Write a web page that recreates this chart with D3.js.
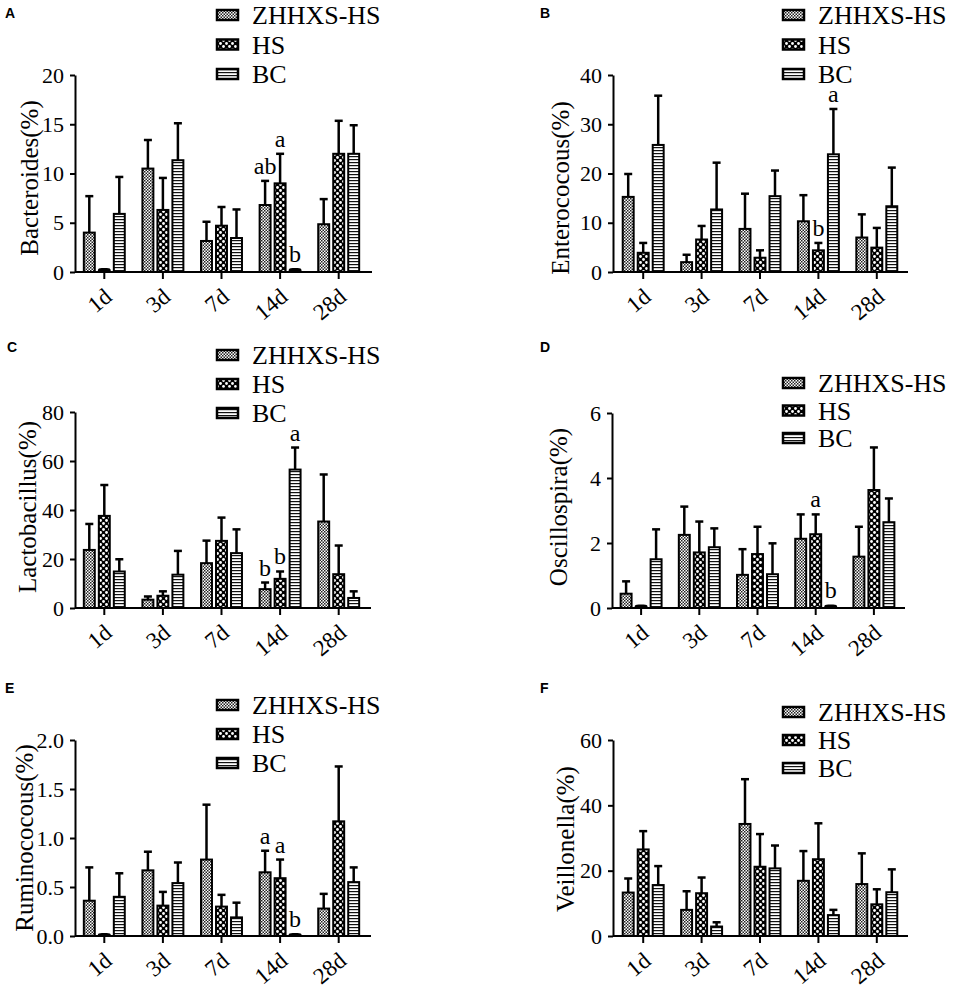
<!DOCTYPE html>
<html>
<head>
<meta charset="utf-8">
<script src="https://cdn.jsdelivr.net/npm/d3@7"></script>
<style>
  body { margin: 0; background: #fff; }
  svg text { font-family: 'Liberation Serif', 'Times New Roman', serif !important; }
  svg text.tag { font-family: 'Liberation Sans', Arial, sans-serif !important; }
</style>
</head>
<body>
<div id="viz"></div>
<script>
// categories and series
const days = ['1d', '3d', '7d', '14d', '28d']
const groups = ['ZHHXS-HS', 'HS', 'BC']

// A - Bacteroides
const bactMean = [[4.0, 10.5, 3.15, 6.8, 4.85], [0.3, 6.3, 4.7, 9.0, 12.0], [5.9, 11.35, 3.45, 0.3, 12.0]]
const bactSd = [[3.7, 2.9, 1.95, 2.45, 2.55], [0, 3.25, 1.9, 3.0, 3.35], [3.75, 3.75, 2.9, 0, 2.9]]
const bactTicks = [0, 5, 10, 15, 20]
const bactMarks = [['14d', 'ZHHXS-HS', 'ab'], ['14d', 'HS', 'a'], ['14d', 'BC', 'b']]

// B - Enterococous
const entMean = [[15.25, 2.0, 8.75, 10.3, 7.0], [3.9, 6.6, 2.9, 4.4, 4.95], [25.8, 12.7, 15.4, 23.9, 13.35]]
const entSd = [[4.65, 1.5, 7.15, 5.3, 4.7], [2.0, 2.75, 1.5, 1.5, 4.0], [10.0, 9.5, 5.2, 9.2, 7.85]]
const entTicks = [0, 10, 20, 30, 40]
const entMarks = [['14d', 'HS', 'b'], ['14d', 'BC', 'a']]

// C - Lactobacillus
const lactMean = [[23.7, 3.4, 18.3, 7.7, 35.3], [37.6, 5.0, 27.4, 11.9, 13.8], [14.9, 13.6, 22.4, 56.5, 4.1]]
const lactSd = [[10.6, 1.3, 9.2, 2.7, 19.2], [12.6, 1.8, 9.5, 3.0, 11.7], [5.0, 9.7, 9.7, 9.0, 2.7]]
const lactTicks = [0, 20, 40, 60, 80]
const lactMarks = [['14d', 'ZHHXS-HS', 'b'], ['14d', 'HS', 'b'], ['14d', 'BC', 'a']]

// D - Oscillospira
const oscMean = [[0.44, 2.25, 1.02, 2.13, 1.58], [0.08, 1.71, 1.66, 2.27, 3.63], [1.5, 1.87, 1.04, 0.08, 2.64]]
const oscSd = [[0.38, 0.87, 0.79, 0.75, 0.92], [0, 0.95, 0.84, 0.61, 1.31], [0.92, 0.58, 0.95, 0, 0.73]]
const oscTicks = [0, 2, 4, 6]
const oscMarks = [['14d', 'HS', 'a'], ['14d', 'BC', 'b']]

// E - Ruminococous
const rumMean = [[0.36, 0.67, 0.78, 0.65, 0.28], [0.02, 0.31, 0.30, 0.59, 1.17], [0.40, 0.54, 0.19, 0.02, 0.55]]
const rumSd = [[0.34, 0.19, 0.56, 0.22, 0.15], [0, 0.14, 0.12, 0.19, 0.56], [0.24, 0.21, 0.15, 0, 0.15]]
const rumTicks = [0, 0.5, 1.0, 1.5, 2.0]
const rumMarks = [['14d', 'ZHHXS-HS', 'a'], ['14d', 'HS', 'a'], ['14d', 'BC', 'b']]

// F - Veillonella
const veilMean = [[13.3, 8.0, 34.3, 16.9, 15.9], [26.5, 13.1, 21.2, 23.5, 9.7], [15.6, 2.9, 20.7, 6.4, 13.4]]
const veilSd = [[4.3, 5.7, 13.7, 9.1, 9.4], [5.6, 4.8, 10.0, 11.0, 4.6], [5.8, 1.3, 7.0, 1.6, 7.0]]
const veilTicks = [0, 20, 40, 60]
const veilMarks = []

const panels = [
  { tag: 'A', label: 'Bacteroides(%)', mean: bactMean, sd: bactSd, ticks: bactTicks, marks: bactMarks, fmt: d3.format('d'),
    pos: { left: 75, right: 372, band: [75, 368], top: 75, bottom: 272, leg: [216, 15, 29.5], ylab: [38, 178], tagAt: [5, 18] } },
  { tag: 'B', label: 'Enterococous(%)', mean: entMean, sd: entSd, ticks: entTicks, marks: entMarks, fmt: d3.format('d'),
    pos: { left: 613, right: 908, band: [614, 906], top: 75, bottom: 272, leg: [782, 15, 29.5], ylab: [569, 188], tagAt: [540, 18] } },
  { tag: 'C', label: 'Lactobacillus(%)', mean: lactMean, sd: lactSd, ticks: lactTicks, marks: lactMarks, fmt: d3.format('d'),
    pos: { left: 75, right: 371, band: [75, 368], top: 412, bottom: 608, leg: [216, 355, 29], ylab: [36, 507], tagAt: [7, 352] } },
  { tag: 'D', label: 'Oscillospira(%)', mean: oscMean, sd: oscSd, ticks: oscTicks, marks: oscMarks, fmt: d3.format('d'),
    pos: { left: 612, right: 905, band: [612, 903], top: 413, bottom: 608, leg: [782, 383, 27.5], ylab: [567, 507], tagAt: [540, 352] } },
  { tag: 'E', label: 'Ruminococous(%)', mean: rumMean, sd: rumSd, ticks: rumTicks, marks: rumMarks, fmt: d3.format('.1f'),
    pos: { left: 75, right: 371, band: [75, 368], top: 740, bottom: 936, leg: [216, 705, 29], ylab: [33, 838], tagAt: [5, 693] } },
  { tag: 'F', label: 'Veillonella(%)', mean: veilMean, sd: veilSd, ticks: veilTicks, marks: veilMarks, fmt: d3.format('d'),
    pos: { left: 613, right: 908, band: [614, 906], top: 740, bottom: 936, leg: [782, 712, 28], ylab: [574, 839], tagAt: [540, 693] } }
]

const svg = d3.select('#viz').append('svg')
  .attr('width', 957)
  .attr('height', 989)

// fill patterns for the three groups
const defs = svg.append('defs')
const pZ = defs.append('pattern').attr('id', 'pat0').attr('patternUnits', 'userSpaceOnUse')
  .attr('width', 3).attr('height', 3)
pZ.append('rect').attr('width', 3).attr('height', 3).attr('fill', '#fff')
pZ.append('rect').attr('width', 1.5).attr('height', 1.5).attr('fill', '#222')
pZ.append('rect').attr('x', 1.5).attr('y', 1.5).attr('width', 1.5).attr('height', 1.5).attr('fill', '#222')

const pH = defs.append('pattern').attr('id', 'pat1').attr('patternUnits', 'userSpaceOnUse')
  .attr('width', 6).attr('height', 6)
pH.append('rect').attr('width', 6).attr('height', 6).attr('fill', '#000')
pH.append('circle').attr('cx', 1.5).attr('cy', 1.5).attr('r', 1.4).attr('fill', '#fff')
pH.append('circle').attr('cx', 4.5).attr('cy', 4.5).attr('r', 1.4).attr('fill', '#fff')

const pB = defs.append('pattern').attr('id', 'pat2').attr('patternUnits', 'userSpaceOnUse')
  .attr('width', 3).attr('height', 3)
pB.append('rect').attr('width', 3).attr('height', 3).attr('fill', '#fff')
pB.append('rect').attr('width', 3).attr('height', 1.2).attr('fill', '#111')

function drawPanel (p) {
  const L = p.pos
  const g = svg.append('g')

  const x = d3.scaleBand().domain(days).range(L.band)
  const xs = d3.scaleBand().domain(groups).range([-22.5, 22.5]).paddingInner(0.27).paddingOuter(0.135)
  const y = d3.scaleLinear().domain([0, p.ticks[p.ticks.length - 1]]).range([L.bottom, L.top])

  // y axis
  const yAxis = g.append('g')
    .attr('transform', `translate(${L.left}, 0)`)
    .call(d3.axisLeft(y).tickValues(p.ticks).tickFormat(p.fmt).tickSize(5).tickSizeOuter(0).tickPadding(6))
  yAxis.select('.domain').attr('stroke', '#000').attr('stroke-width', 2)
  yAxis.selectAll('.tick line').attr('stroke', '#000').attr('stroke-width', 2)
  yAxis.selectAll('.tick text')
    .attr('font-size', 22)
    .attr('fill', '#000')

  // bars and error bars
  groups.forEach((grp, gi) => {
    const rows = days.map((d, i) => ({ day: d, m: p.mean[gi][i], s: p.sd[gi][i] }))
    const cx = d => x(d.day) + x.bandwidth() / 2 + xs(grp) + xs.bandwidth() / 2

    const eb = g.append('g')
    eb.selectAll('line.v').data(rows.filter(d => d.s > 0)).join('line')
      .attr('x1', cx).attr('x2', cx)
      .attr('y1', d => y(d.m)).attr('y2', d => y(d.m + d.s))
      .attr('stroke', '#000').attr('stroke-width', 2.5)
    eb.selectAll('line.c').data(rows.filter(d => d.s > 0)).join('line')
      .attr('x1', d => cx(d) - 4).attr('x2', d => cx(d) + 4)
      .attr('y1', d => y(d.m + d.s)).attr('y2', d => y(d.m + d.s))
      .attr('stroke', '#000').attr('stroke-width', 2.5)

    g.append('g').selectAll('rect').data(rows).join('rect')
      .attr('x', d => cx(d) - xs.bandwidth() / 2)
      .attr('width', xs.bandwidth())
      .attr('y', d => y(d.m))
      .attr('height', d => y(0) - y(d.m))
      .attr('rx', d => (y(0) - y(d.m) < 4 ? 3 : 0))
      .attr('fill', d => (y(0) - y(d.m) < 4 ? '#000' : `url(#pat${gi})`))
      .attr('stroke', '#000')
      .attr('stroke-width', 2)
  })

  // x axis
  const xAxis = g.append('g')
    .attr('transform', `translate(0, ${L.bottom})`)
  xAxis.append('line')
    .attr('x1', L.left).attr('x2', L.right)
    .attr('stroke', '#000').attr('stroke-width', 2)
  xAxis.selectAll('line.tk').data(days).join('line')
    .attr('class', 'tk')
    .attr('x1', d => x(d) + x.bandwidth() / 2).attr('x2', d => x(d) + x.bandwidth() / 2)
    .attr('y1', 0).attr('y2', 7)
    .attr('stroke', '#000').attr('stroke-width', 2)
  xAxis.selectAll('text').data(days).join('text')
    .attr('transform', d => `translate(${x(d) + x.bandwidth() / 2 + 9}, 27) rotate(-40)`)
    .attr('text-anchor', 'end')
    .attr('font-size', 23)
    .text(d => d)

  // significance letters
  g.selectAll('text.sig').data(p.marks).join('text')
    .attr('class', 'sig')
    .attr('x', d => x(d[0]) + x.bandwidth() / 2 + xs(d[1]) + xs.bandwidth() / 2)
    .attr('y', d => {
      const gi = groups.indexOf(d[1])
      const di = days.indexOf(d[0])
      return y(p.mean[gi][di] + p.sd[gi][di]) - 7
    })
    .attr('text-anchor', 'middle')
    .attr('font-size', 24)
    .text(d => d[2])

  // y label
  g.append('text')
    .attr('transform', `translate(${L.ylab[0]}, ${L.ylab[1]}) rotate(-90)`)
    .attr('text-anchor', 'middle')
    .attr('font-size', 25)
    .text(p.label)

  // legend
  const leg = g.append('g')
    .attr('transform', `translate(${L.leg[0]}, ${L.leg[1]})`)
  groups.forEach((grp, gi) => {
    leg.append('rect')
      .attr('x', 1).attr('y', gi * L.leg[2] - 5)
      .attr('width', 21).attr('height', 10)
      .attr('fill', `url(#pat${gi})`)
      .attr('stroke', '#000').attr('stroke-width', 2.5)
    leg.append('text')
      .attr('x', 36).attr('y', gi * L.leg[2] + 9)
      .attr('font-size', 26)
      .text(grp)
  })

  // panel tag
  svg.append('text')
    .attr('class', 'tag')
    .attr('x', L.tagAt[0]).attr('y', L.tagAt[1])
    .attr('font-weight', 'bold')
    .attr('font-size', 14)
    .text(p.tag)
}

panels.forEach(drawPanel)
</script>
</body>
</html>
